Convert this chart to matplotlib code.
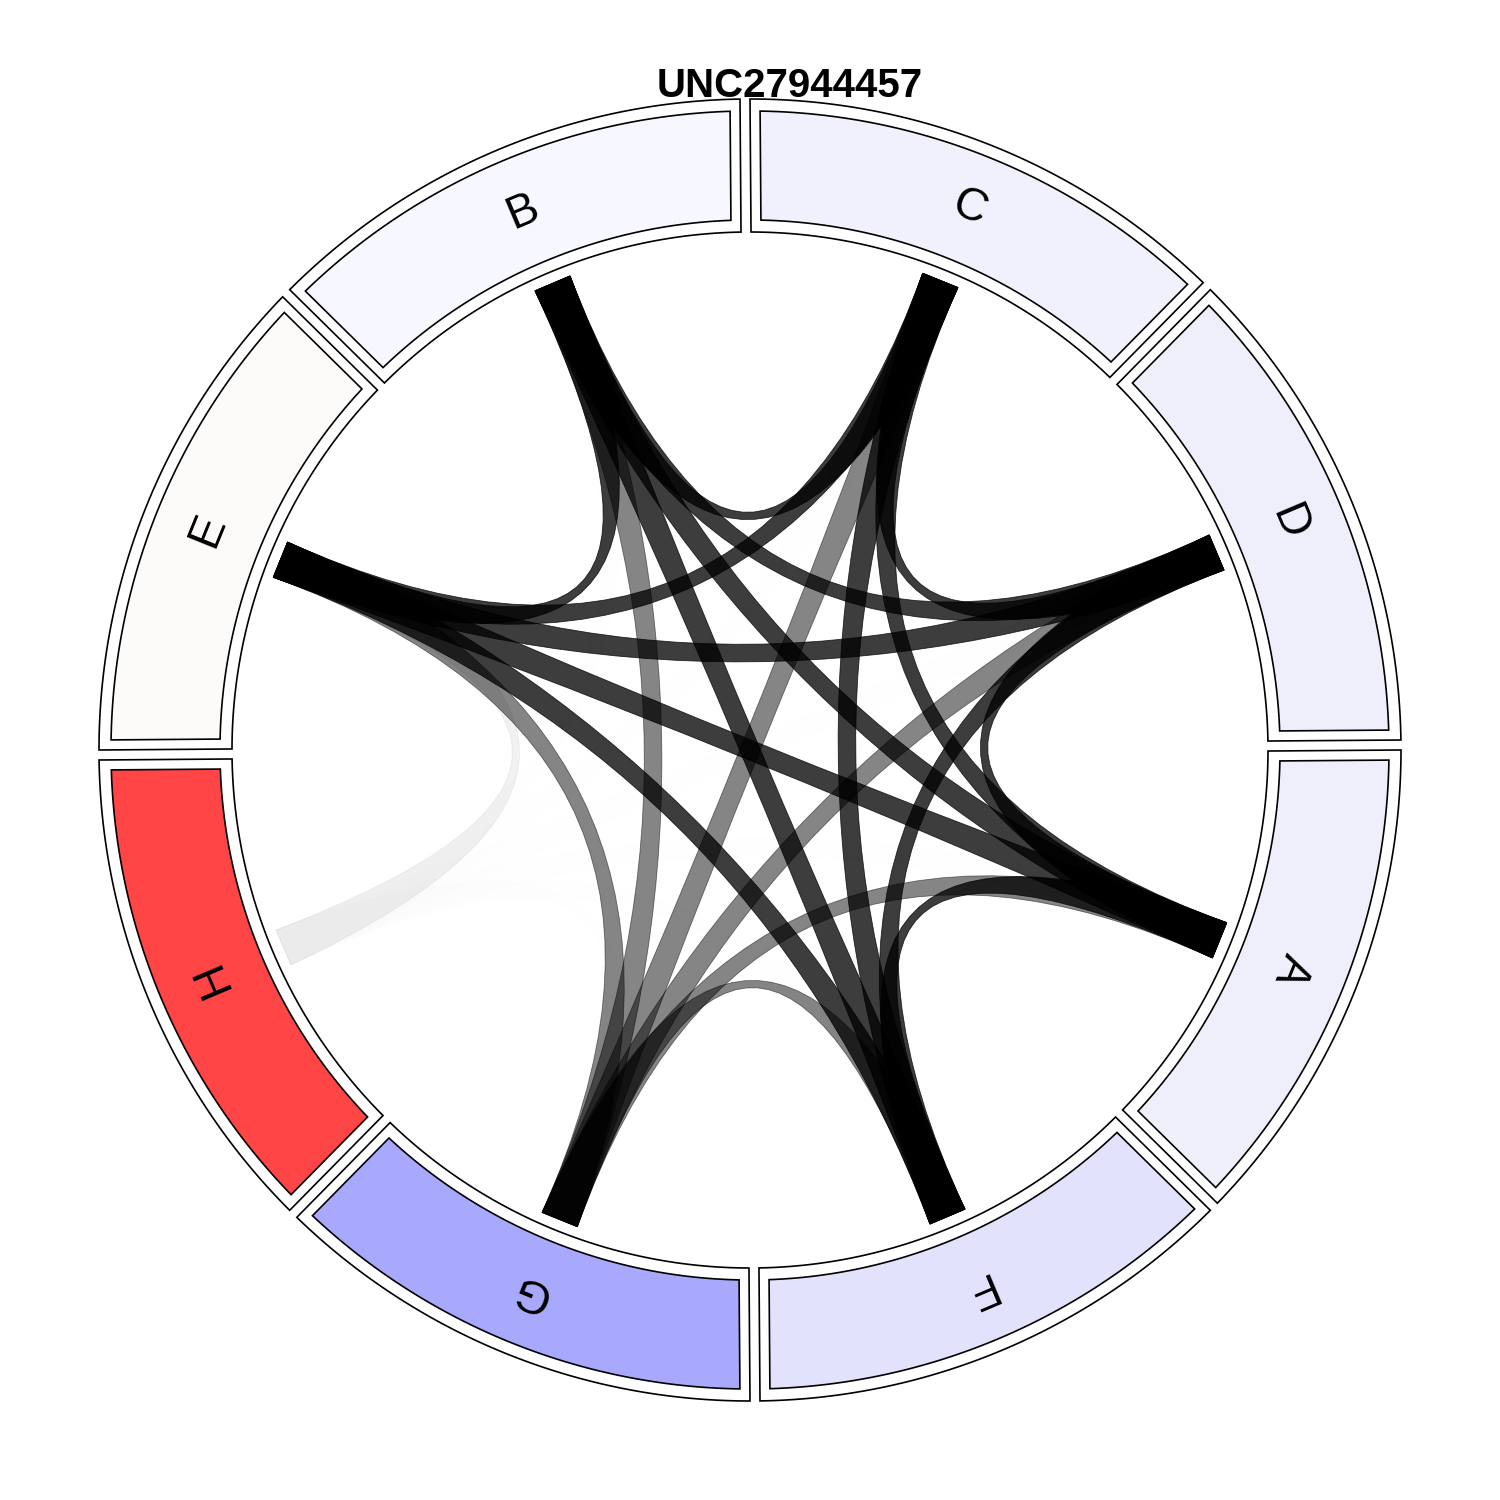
import numpy as np
import matplotlib.pyplot as plt
from matplotlib.patches import Polygon, PathPatch
from matplotlib.path import Path

# founders and their fill colours
founders = ['A', 'B', 'C', 'D', 'E', 'F', 'G', 'H']
fill_colors = ['#efeffc', '#f7f7ff', '#f1f1fd', '#efeffc',
               '#fcfbf9', '#e2e2fc', '#a8a8fc', '#ff4545']
# counter-clockwise order of the sectors starting at 3 o'clock
ring_order = ['D', 'C', 'B', 'E', 'H', 'G', 'F', 'A']

# links between founders (from, to, opacity)
link_from = ['A', 'A', 'A', 'A', 'A', 'B', 'B', 'B', 'B', 'C', 'C', 'C', 'D', 'D', 'E',
             'A', 'B', 'C', 'D', 'E', 'F',
             'A', 'B', 'C', 'D', 'E', 'F', 'G']
link_to = ['B', 'C', 'D', 'E', 'F', 'C', 'D', 'E', 'F', 'D', 'E', 'F', 'E', 'F', 'F',
           'G', 'G', 'G', 'G', 'G', 'G',
           'H', 'H', 'H', 'H', 'H', 'H', 'H']
link_alpha = [0.76] * 15 + [0.48] * 6 + [0.004, 0.004, 0.004, 0.004, 0.055, 0.004, 0.004]

title = 'UNC27944457'

ROT = np.deg2rad(0.44)
R_OUT, R_IN = 651, 518
R_BOX_OUT, R_BOX_IN = 639, 530
R_LINK = 507
HALF_W = 19 / R_LINK


def sector_poly(phi1, phi2, r_in, r_out, off, **kw):
    pts = []
    for r, rev in ((r_out, False), (r_in, True)):
        t = np.linspace(phi1 + np.arcsin(off / r), phi2 - np.arcsin(off / r), 120)
        if rev:
            t = t[::-1]
        pts += list(zip(r * np.cos(t), r * np.sin(t)))
    return Polygon(pts, closed=True, **kw)


def pt(a, r=R_LINK):
    return (r * np.cos(a), r * np.sin(a))


fig = plt.figure(figsize=(15, 15), dpi=100)
ax = fig.add_axes([0, 0, 1, 1])
ax.set_xlim(-750, 750)
ax.set_ylim(-750, 750)
ax.set_aspect('equal')
ax.axis('off')

node_angle = {}
for k, name in enumerate(ring_order):
    phi1 = np.deg2rad(45 * k) + ROT
    phi2 = phi1 + np.deg2rad(45)
    mid = (phi1 + phi2) / 2
    node_angle[name] = mid
    col = fill_colors[founders.index(name)]
    ax.add_patch(sector_poly(phi1, phi2, R_IN, R_OUT, 5,
                             facecolor='white', edgecolor='black', lw=1.2))
    ax.add_patch(sector_poly(phi1, phi2, R_BOX_IN, R_BOX_OUT, 15,
                             facecolor=col, edgecolor='black', lw=1.2))
    r_lab = (R_IN + R_OUT) / 2
    ax.text(r_lab * np.cos(mid), r_lab * np.sin(mid), name,
            rotation=np.rad2deg(mid) - 90, rotation_mode='anchor',
            ha='center', va='center', fontsize=33, family='Liberation Sans')

for f, t, a in zip(link_from, link_to, link_alpha):
    ta, tb = node_angle[f], node_angle[t]
    a1, a2 = ta - HALF_W, ta + HALF_W
    b1, b2 = tb - HALF_W, tb + HALF_W
    verts = [pt(a1), pt(a2), (0, 0), pt(b1), pt(b2), (0, 0), pt(a1), pt(a1)]
    codes = [Path.MOVETO, Path.LINETO, Path.CURVE3, Path.CURVE3,
             Path.LINETO, Path.CURVE3, Path.CURVE3, Path.CLOSEPOLY]
    ax.add_patch(PathPatch(Path(verts, codes), facecolor=(0, 0, 0, a),
                           edgecolor=(0, 0, 0, a), lw=0.6))

fig.text(790 / 1500, 1 - 97 / 1500, title, ha='center', va='baseline',
         fontsize=29, fontweight='bold', family='Liberation Sans')

fig.savefig('out.png', dpi=100)
